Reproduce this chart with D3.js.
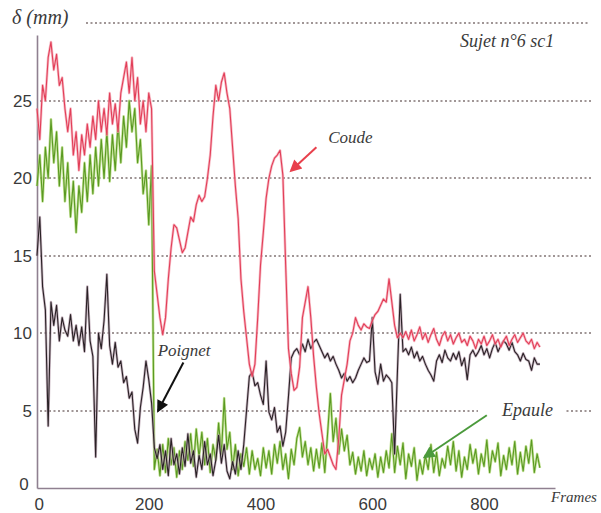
<!DOCTYPE html>
<html>
<head>
<meta charset="utf-8">
<script src="https://cdn.jsdelivr.net/npm/d3@7"></script>
<style>
  html, body { margin: 0; padding: 0; background: #fff; }
  svg { display: block; }
</style>
</head>
<body>
<div id="chart"></div>
<script>
// Canvas size
const width = 601;
const height = 513;

// Frame step between samples
const frameStep = 5;

// Coude (red), one value every 5 frames, 0..900
const coude = [
  24.5, 22.5, 26, 25, 27.8, 28.8, 27, 28, 26, 26.5,
  24.5, 23, 24.5, 21.5, 23, 20.5, 22.8, 21.5, 23.5, 22,
  24, 22.5, 25, 23, 24.5, 22.8, 25.5, 23.5, 24.8, 23,
  25.5, 26.5, 27.5, 25.5, 27.8, 25, 26.5, 23.5, 25, 23,
  25.5, 24.5, 14, 12.5, 11, 9.9, 11, 13.5, 15.5, 17,
  16.8, 16, 15.2, 15.5, 16.5, 17.5, 17.2, 18.3, 18.9, 18.5,
  18.8, 20, 21.5, 24, 26, 25, 26.2, 26.8, 25.5, 24.5,
  22, 19.5, 17.4, 13.5, 11.4, 9.7, 8, 7.2, 8, 11,
  14.4, 16.5, 18.7, 20, 20.8, 21.3, 21.5, 21.8, 20.2, 14.4,
  9, 7.4, 6.3, 6.5, 7.8, 11, 12, 13, 11, 8.5,
  6.5, 4.8, 3.5, 2.2, 2.5, 2, 1.5, 1.2, 3.2, 6,
  7, 8, 9.5, 10, 11, 10.5, 10.2, 10.6, 10.4, 10.3,
  10.8, 11.2, 11.4, 11.8, 12.2, 12, 13.5, 12, 10.5, 9.7,
  10, 9.7, 10.1, 9.6, 10.2, 9.5, 9.9, 10.4, 9.6, 10,
  9.4, 9.9, 10.3, 9.6, 9.2, 9.8, 10.1, 9.5, 9.9, 9.3,
  9.7, 10, 9.4, 9.6, 9.2, 9.8, 9.5, 9, 9.6, 9.3,
  9.8, 9.2, 9.5, 9.9, 9.3, 9.6, 9.1, 9.5, 9.8, 9.2,
  9.6, 9.9, 9.4, 9.7, 10, 9.5, 9.3, 9.6, 9, 9.4,
  9.1
];

// Epaule (green)
const epaule = [
  19.5, 21.5, 18.5, 22, 20, 23.8, 21, 23, 19.5, 22,
  18.5, 21, 17.5, 19.8, 16.5, 19.5, 17.8, 21, 18.5, 21.5,
  19, 22, 19.5, 22.5, 20, 23, 19.8, 22.8, 20.5, 23.5,
  21, 24, 22, 25, 23, 24.5, 21, 22.5, 19, 20.5,
  17, 20.8, 1.2, 2.5, 0.8, 2.8, 1, 3.2, 1.5, 2.6,
  0.7, 2.4, 1.2, 3, 1.8, 3.5, 1.4, 3.8, 2, 3.6,
  1.5, 3.2, 1, 2.8, 1.8, 4.2, 2.2, 5.8, 2.5, 3.6,
  1.2, 2.8, 0.8, 2.2, 1.4, 2.6, 0.9, 2.4, 1.2, 1.9,
  0.8, 2.6, 1.3, 2.4, 0.9, 2.8, 1.6, 3, 1.2, 2.2,
  0.6, 2.5, 1.5, 3.2, 3.9, 2, 3, 1.5, 2.6, 1.1,
  2.5, 1.3, 2.9, 1, 3.5, 6.1, 3, 4.5, 2.2, 3.8,
  2.4, 3.4, 1.5, 2.3, 0.9, 2, 1.1, 2.4, 0.8, 1.9,
  1.2, 2.2, 0.7, 2, 1, 2.4, 1.3, 3.5, 1, 2.7,
  1.5, 2.9, 0.6, 2.2, 1.4, 2.6, 0.5, 1.8, 0.9, 2.1,
  1.2, 2.8, 1, 2.3, 0.8, 1.9, 1.3, 2.7, 1.5, 3,
  1.1, 2.4, 0.7, 2, 1.2, 2.8, 1.6, 2.5, 0.9, 2.2,
  1.4, 3.1, 1, 2.4, 1.7, 2.9, 0.8, 2.1, 1.2, 2.6,
  1.5, 3, 0.9, 2.3, 1.1, 2.7, 1.6, 3.1, 1, 2.2,
  1.3
];

// Poignet (black)
const poignet = [
  15, 17.5, 13, 11.5, 4, 12, 10.5, 11.8, 9.5, 11,
  10.2, 9.8, 11.2, 9.5, 10.5, 9.2, 10.4, 8.8, 13, 9.5,
  8.5, 2, 10, 9, 10.8, 13.8, 9.2, 8, 9.4, 7.8,
  8.2, 6.8, 7.2, 5.8, 6.2, 3.8, 2.9, 5.2, 6.5, 8.2,
  7, 5.5, 2.6, 1.9, 2.8, 1.2, 2.4, 0.8, 3.2, 1.5,
  2.2, 0.9, 2.6, 1.4, 3.5, 1.6, 2.4, 0.7, 2.1, 1.2,
  3, 1.5, 2.2, 0.8, 1.8, 3.4, 1.6, 2.8, 1.1, 0.6,
  1.7, 0.9, 2.4, 1.2, 2.8, 5, 7.2, 7.5, 6.6, 6.8,
  6, 5.4, 8.2, 4.9, 4.4, 5.2, 3.6, 4, 2.7, 3.6,
  5.9, 8.4, 8.8, 9, 8.6, 9.3, 8.8, 9.6, 9, 9.4,
  9.6, 9.2, 8.8, 8.4, 8.7, 8.2, 8.5, 8, 7.6, 7.1,
  7.4, 6.9, 7.2, 6.8, 7.1, 7.6, 8, 8.4, 8.1, 8.2,
  11, 7.5, 6.7, 8, 6.9, 7.3, 7.1, 6.8, 2.2, 7.5,
  12.5, 8.8, 9, 8.6, 9.1, 8.4, 8.8, 8.2, 8.5, 8,
  7.6, 7.3, 6.9, 8.2, 8.6, 8.1, 8.9, 8.4, 8.2, 8.7,
  8.3, 8.8, 7.9, 8.4, 7, 8.6, 8.9, 8.5, 8.8, 9.2,
  8.6, 9, 8.4, 9, 9.4, 8.8, 9.2, 9.5, 9.3, 8.9,
  9.4, 8.8, 8.6, 8.2, 8.7, 8.3, 8.2, 7.6, 8.4, 8,
  8
];

// Tick labels
const xTicks = [0, 200, 400, 600, 800];
const yTicks = [0, 5, 10, 15, 20, 25];
const gridValues = [5, 10, 15, 20, 25, 30];

const svg = d3.select("#chart")
  .append("svg")
  .attr("width", width)
  .attr("height", height)
  .style("background", "#fff");

// Scales
const xScale = d3.scaleLinear()
  .domain([0, 927])
  .range([37, 555]);

const yScale = d3.scaleLinear()
  .domain([0, 29.25])
  .range([488, 35]);

// Axes
const xAxis = svg.append("g")
  .attr("transform", `translate(0, ${yScale(0)})`)
  .call(d3.axisBottom(xScale).tickValues(xTicks).tickSize(0).tickPadding(10));

const yAxis = svg.append("g")
  .attr("transform", `translate(${xScale(0)}, 0)`)
  .call(d3.axisLeft(yScale).tickValues(yTicks).tickSize(0).tickPadding(5));

[xAxis, yAxis].forEach(g => {
  g.select(".domain").attr("stroke", "#8f8090").attr("stroke-width", 1.6);
  g.selectAll("text")
    .attr("font-family", "Liberation Sans, Arial, sans-serif")
    .attr("font-size", 17)
    .attr("fill", "#3a3a3a");
});
yAxis.selectAll("text").filter(d => d === 0).attr("dy", "0.1em").attr("dx", "-0.2em");
xAxis.selectAll("text").filter(d => d === 0).attr("dx", "0.1em");

// Dotted gridlines: a row of small square dots per level
const gridG = svg.append("g").attr("class", "grid");
gridValues.forEach(v => {
  const y = Math.round(yScale(v)) - 1;
  const start = v === 30 ? 86 : 40;
  gridG.selectAll(null)
    .data(d3.range(start, 590, 4.5))
    .join("rect")
    .attr("x", d => d)
    .attr("y", y)
    .attr("width", 2)
    .attr("height", 2)
    .attr("fill", "#a09696");
});

// Series lines: a pale wide trace under a thin darker one
const line = d3.line()
  .x((d, i) => xScale(i * frameStep))
  .y(d => yScale(d));

const series = [
  { name: "Epaule", values: epaule, color: "#5a9a22", halo: "#a9d46a" },
  { name: "Poignet", values: poignet, color: "#2a2226", halo: "#b49aaa" },
  { name: "Coude", values: coude, color: "#e23e58", halo: "#f4a0ae" }
];

const lines = svg.append("g");
series.forEach(s => {
  lines.append("path")
    .attr("fill", "none")
    .attr("stroke", s.halo)
    .attr("stroke-width", 2.6)
    .attr("stroke-opacity", 0.7)
    .attr("stroke-linejoin", "round")
    .attr("d", line(s.values));
  lines.append("path")
    .attr("fill", "none")
    .attr("stroke", s.color)
    .attr("stroke-width", 1.1)
    .attr("stroke-linejoin", "round")
    .attr("d", line(s.values));
});

// Annotations, placed in data units
const serif = "Liberation Serif, DejaVu Serif, serif";

svg.append("text")
  .attr("x", 12)
  .attr("y", 24)
  .attr("font-family", serif)
  .attr("font-style", "italic")
  .attr("font-size", 20)
  .attr("fill", "#3a3a3a")
  .text("δ (mm)");

const labels = [
  { text: "Sujet n°6 sc1", f: 757, v: 28.5, size: 18 },
  { text: "Coude", f: 521, v: 22.3, size: 17 },
  { text: "Poignet", f: 216, v: 8.5, size: 17 },
  { text: "Epaule", f: 832, v: 4.65, size: 18, gap: [478, 566] },
  { text: "Frames", f: 920, v: -0.9, size: 15 }
];

const labelLayer = svg.append("g");
labels.forEach(l => {
  if (l.gap) {
    // blank the gridline behind the label
    labelLayer.append("rect")
      .attr("x", l.gap[0])
      .attr("y", Math.round(yScale(5)) - 3)
      .attr("width", l.gap[1] - l.gap[0])
      .attr("height", 6)
      .attr("fill", "#fff");
  }
  labelLayer.append("text")
    .attr("x", xScale(l.f))
    .attr("y", yScale(l.v))
    .attr("font-family", serif)
    .attr("font-style", "italic")
    .attr("font-size", l.size)
    .attr("fill", "#3a3a3a")
    .text(l.text);
});

// Arrows
const arrows = [
  { f1: 500, v1: 22.0, f2: 455, v2: 20.5, color: "#e8404c" },
  { f1: 262, v1: 8.1, f2: 217, v2: 5.0, color: "#111" },
  { f1: 805, v1: 4.7, f2: 694, v2: 2.0, color: "#4b9a3c" }
];

const defs = svg.append("defs");
arrows.forEach((a, i) => {
  defs.append("marker")
    .attr("id", "head" + i)
    .attr("viewBox", "0 0 10 10")
    .attr("refX", 8)
    .attr("refY", 5)
    .attr("markerWidth", 7)
    .attr("markerHeight", 6)
    .attr("markerUnits", "strokeWidth")
    .attr("orient", "auto")
    .append("path")
    .attr("d", "M0,0 L10,5 L0,10 Z")
    .attr("fill", a.color);

  svg.append("line")
    .attr("x1", xScale(a.f1))
    .attr("y1", yScale(a.v1))
    .attr("x2", xScale(a.f2))
    .attr("y2", yScale(a.v2))
    .attr("stroke", a.color)
    .attr("stroke-width", 2)
    .attr("marker-end", `url(#head${i})`);
});
</script>
</body>
</html>
